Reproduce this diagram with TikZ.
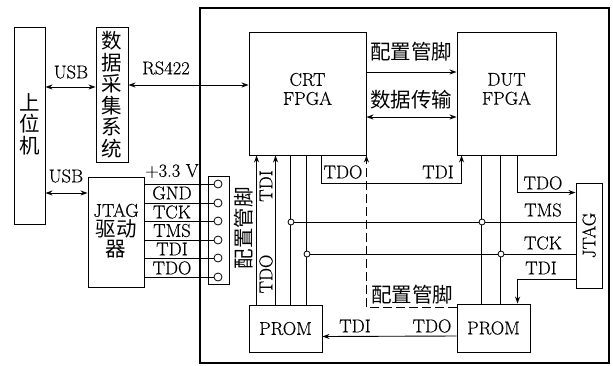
\documentclass[tikz,border=0pt]{standalone}
\usepackage{fontspec}
\newfontfamily\cjk{Noto Sans CJK SC}
\newfontfamily\lmh{Latin Modern Roman}[FakeBold=0.35]
\usetikzlibrary{arrows.meta}
\begin{document}
\begin{tikzpicture}[x=1pt,y=-1pt,
  box/.style={draw, line width=0.9pt, inner sep=0pt},
  wire/.style={line width=0.9pt},
  arr/.style={wire,-{Stealth[length=7pt,width=5pt]}},
  darr/.style={wire,{Stealth[length=7pt,width=5pt]}-{Stealth[length=7pt,width=5pt]}},
  lbl/.style={font=\lmh\fontsize{18.5}{19}\selectfont, inner sep=0pt},
  zh/.style={font=\cjk\fontsize{20.5}{21.5}\selectfont, inner sep=0pt, align=center},
  jdot/.style={circle, draw, fill=white, minimum size=6pt, inner sep=0pt, line width=0.8pt},
  pin/.style={circle, draw, fill=white, minimum size=8pt, inner sep=0pt, line width=0.8pt},
]
\useasboundingbox (0,0) rectangle (613,365);
% board
\draw[line width=1.2pt] (200,8) rectangle (609,363);
% boxes
\node[box, minimum width=31pt, minimum height=197pt] (host) at (29.5,125.5) {};
\node[zh] at (29.5,124) {上\\位\\机};
\node[box, minimum width=32pt, minimum height=135pt] (daq) at (112,94.5) {};
\node[zh] at (112,94.5) {数\\据\\采\\集\\系\\统};
\node[box, minimum width=117pt, minimum height=123pt] (crt) at (307.5,93.5) {};
\node[lbl, align=center] at (307.5,89) {CRT\\FPGA};
\node[box, minimum width=99pt, minimum height=123pt] (dut) at (506.5,93.5) {};
\node[lbl, align=center] at (506.5,89) {DUT\\FPGA};
\node[box, minimum width=21pt, minimum height=108pt] (conn) at (218.5,230) {};
\node[box, minimum width=56pt, minimum height=110pt] (jdrv) at (116,232) {};
\node[inner sep=0pt, align=center, font=\lmh\fontsize{18.5}{20}\selectfont] at (116,231) {JTAG\\{\cjk\fontsize{20.5}{20}\selectfont 驱动}\\{\cjk\fontsize{20.5}{20}\selectfont 器}};
\node[box, minimum width=73pt, minimum height=47pt] (prom1) at (285.5,328.5) {};
\node[lbl] at (285.5,328.5) {PROM};
\node[box, minimum width=73pt, minimum height=48pt] (prom2) at (493.5,328) {};
\node[lbl] at (493.5,328) {PROM};
\node[box, minimum width=26pt, minimum height=105pt] (jtag) at (589,235.5) {};
\node[lbl, rotate=90] at (589,235.5) {JTAG};
% coordinates
\coordinate (u1) at (45,87);
\coordinate (u2) at (45,193);
\coordinate (r1) at (130,85);
\coordinate (c1) at (370,72);
\coordinate (c2) at (370,117);
% left side
\draw[darr] (host.east |- u1) -- (daq.west |- u1);
\node[lbl] at (71,72) {USB};
\draw[darr] (host.east |- u2) -- (jdrv.west |- u2);
\node[lbl] at (66,176) {USB};
\draw[darr] (daq.east |- r1) -- (crt.west |- r1);
\node[lbl] at (166,68) {RS422};
% FPGA links
\draw[arr] (crt.east |- c1) -- (dut.west |- c1);
\node[zh] at (411,52) {配置管脚};
\draw[darr] (crt.east |- c2) -- (dut.west |- c2);
\node[zh] at (411,100) {数据传输};
% connector pins and wires
\foreach \n/\y in {1/184,2/203,3/221,4/240,5/258,6/277}{
  \node[pin] (p\n) at (218,\y) {};
  \draw[wire] (jdrv.east |- p\n) -- (p\n);
}
\node[lbl] at (172,171) {+3.3 V};
\node[lbl] at (172,193) {GND};
\node[lbl] at (172,212) {TCK};
\node[lbl] at (172,230.5) {TMS};
\node[lbl] at (172,249) {TDI};
\node[lbl] at (172,268) {TDO};
\node[zh, rotate=90] at (244,228) {配置管脚};
% CRT <-> PROM1
\draw[arr] ([xshift=8pt]prom1.north west) -- ([xshift=8pt]crt.south west);
\draw[arr] ([xshift=27pt]prom1.north west) -- ([xshift=27pt]crt.south west);
\draw[wire] ([xshift=42pt]prom1.north west) -- ([xshift=42pt]crt.south west);
\draw[wire] ([xshift=58pt]prom1.north west) -- ([xshift=58pt]crt.south west);
\node[lbl, rotate=90] at (266,186) {TDI};
\node[lbl, rotate=90] at (266,274) {TDO};
% CRT TDO -> DUT TDI
\draw[arr] ([xshift=-45pt]crt.south east) -- ++(0,28) -| ([xshift=5pt]dut.south west);
\node[lbl] at (343,172) {TDO};
\node[lbl] at (438,172) {TDI};
% dashed config
\draw[arr, dashed, dash pattern=on 9pt off 4pt] ([yshift=-4pt]prom2.north west) -| (crt.south east);
\node[zh] at (412,295) {配置管脚};
% PROM2 -> PROM1
\draw[arr] ([yshift=-8pt]prom2.west) -- ([yshift=-8pt]prom1.east);
\node[lbl] at (355,326) {TDI};
\node[lbl] at (432,326) {TDO};
% DUT <-> PROM2
\draw[wire] ([xshift=25pt]dut.south west) -- ([xshift=25pt]prom2.north west);
\draw[wire] ([xshift=44pt]dut.south west) -- ([xshift=44pt]prom2.north west);
% DUT TDO -> JTAG
\draw[arr] ([xshift=61pt]dut.south west) |- ([yshift=-10pt]jtag.north west);
\node[lbl] at (543,183) {TDO};
% JTAG TDI -> PROM2
\draw[arr] ([yshift=9pt]jtag.south west) -| ([xshift=61pt]prom2.north west);
\node[lbl] at (541,268) {TDI};
% TMS / TCK
\coordinate (j1) at (291,222);
\coordinate (j2) at (482,222);
\coordinate (j3) at (307,254);
\coordinate (j4) at (501,254);
\draw[wire] (j1) -- (j1 -| jtag.west);
\draw[wire] (j3) -- (j3 -| jtag.west);
\node[lbl] at (543,210) {TMS};
\node[lbl] at (543,243) {TCK};
\foreach \j in {j1,j2,j3,j4} \node[jdot] at (\j) {};
\end{tikzpicture}
\end{document}
